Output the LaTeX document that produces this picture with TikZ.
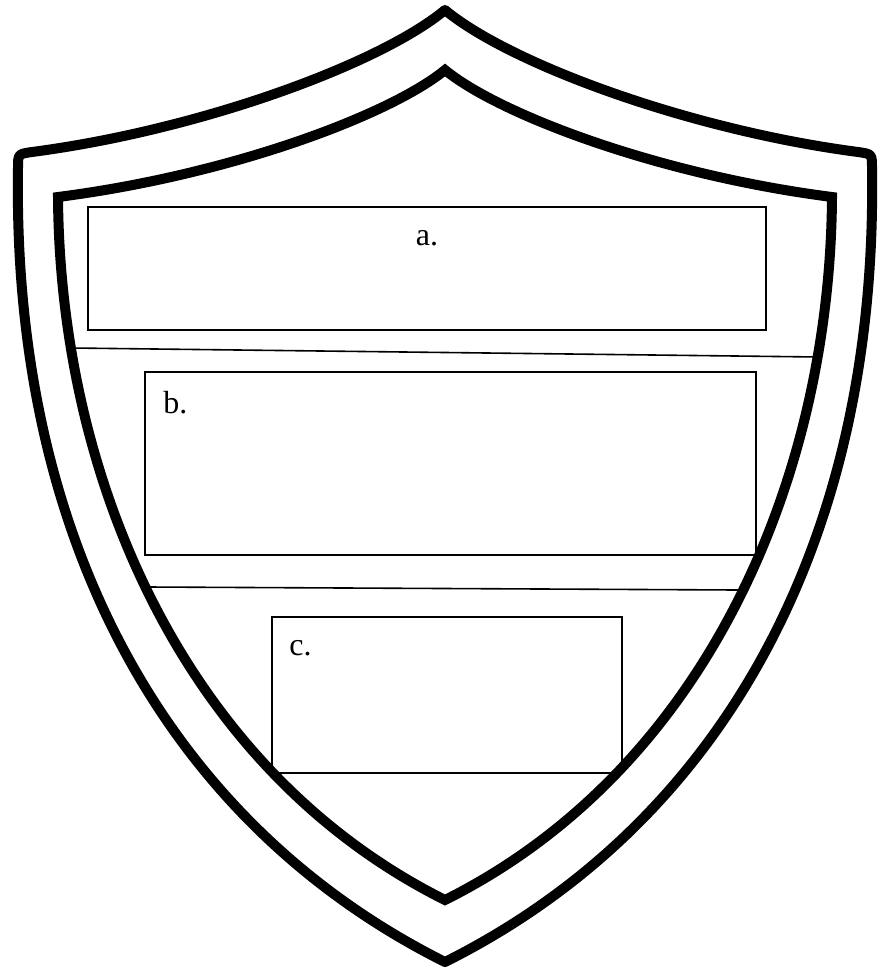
\documentclass[tikz,border=0pt]{standalone}
\usepackage{fontspec}
\setmainfont{Liberation Serif}
\usetikzlibrary{positioning}
\tikzset{
  rim/.style={line width=10pt, line join=round},
  innerrim/.style={line width=10pt, line join=miter},
  field/.style={rectangle, draw, line width=1.6pt, inner sep=0pt},
  tag/.style={inner sep=0pt, font=\fontsize{32}{38}\selectfont},
  divider/.style={line width=1.6pt},
}
\begin{document}
\begin{tikzpicture}[x=1pt, y=-1pt]
  \fill[white] (0,0) rectangle (882,974);
  \useasboundingbox (0,0) rectangle (882,974);

  % outer rim of the shield
  \draw[rim] (445,10) .. controls (380,64) and (200,130) .. (32,152)
    .. controls (18,154) .. (18,168)
    .. controls (12,550) and (175,827) .. (445,962)
    .. controls (715,827) and (878,550) .. (872,168)
    .. controls (872,154) .. (858,152)
    .. controls (690,130) and (510,64) .. (445,10) -- cycle;

  % inner rim
  \draw[innerrim] (445,70) .. controls (390,115) and (230,175) .. (58,197)
    .. controls (60,480) and (185,770) .. (445,900)
    .. controls (705,770) and (830,480) .. (832,197)
    .. controls (660,175) and (500,115) .. (445,70) -- cycle;

  % fields
  \node[field, minimum width=678pt, minimum height=123pt] (boxa) at (427,268.5) {};
  \node[field, minimum width=611pt, minimum height=183pt] (boxb) at (450.5,463.5) {};
  \node[field, minimum width=350pt, minimum height=156pt] (boxc) at (447,695) {};

  \node[tag, below=24pt of boxa.north]                  (taga) {a.};
  \node[tag, below right=20pt and 19pt of boxb.north west] (tagb) {b.};
  \node[tag, below right=24pt and 18pt of boxc.north west] (tagc) {c.};

  % dividers
  \coordinate (cutaw) at (72,348);
  \coordinate (cutae) at (818,357);
  \coordinate (cutbw) at (148,587);
  \coordinate (cutbe) at (738,590);
  \draw[divider] (cutaw) -- (cutae);
  \draw[divider] (cutbw) -- (cutbe);

\end{tikzpicture}
\end{document}
